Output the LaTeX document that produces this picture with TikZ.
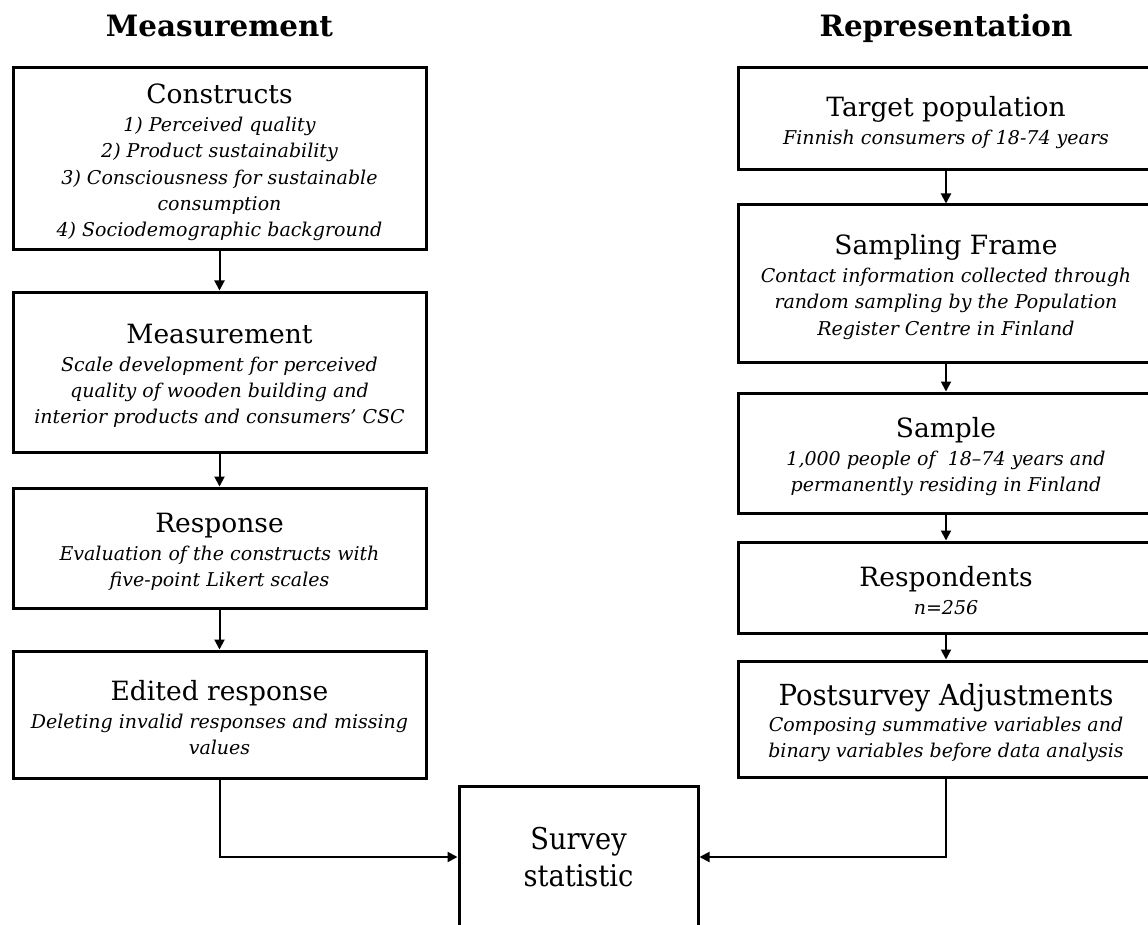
\documentclass[tikz,border=0pt]{standalone}
\usepackage{fontspec}
\setmainfont{DejaVu Serif}
\newfontfamily\narrowserif[FakeStretch=0.88]{DejaVu Serif}
\newfontfamily\narrowtitle[FakeStretch=0.95]{DejaVu Serif}
\newfontfamily\statserif[FakeStretch=0.91]{DejaVu Serif}
\usetikzlibrary{arrows.meta}

\tikzset{
  stage/.style={draw, line width=3pt, inner sep=0pt, align=center,
    font=\fontsize{19}{26.3}\selectfont\itshape},
  lcol/.style={stage, minimum width=413pt},
  rcol/.style={stage, minimum width=416pt},
  link/.style={line width=2pt, -{Triangle[length=10pt,width=10pt]}},
  head/.style={anchor=base, font=\fontsize{29.4}{32}\selectfont\bfseries},
}
% box title with a strut that pushes the text block slightly down
\newcommand\stagetitle[1]{{\fontsize{26.5}{30}\selectfont\upshape\rule{0pt}{27pt}#1}\\[1.5pt]}
\newcommand\posttitle[1]{{\narrowtitle\fontsize{29}{32}\selectfont\upshape\rule{0pt}{29pt}#1}\\[0pt]}

\begin{document}
\begin{tikzpicture}[x=1pt,y=-1pt]
  \clip (0,0) rectangle (1148,925);
  \fill[white] (0,0) rectangle (1148,925);

  % column headings
  \node[head] (hm) at (219.5,37) {Measurement};
  \node[head] (hr) at (946,37) {Representation};

  % measurement side
  \node[lcol, minimum height=182pt] (constructs) at (219.5,159)
    {\stagetitle{Constructs}1) Perceived quality\\2) Product sustainability\\3) Consciousness for sustainable\\consumption\\4) Sociodemographic background};
  \node[lcol, minimum height=160pt] (measure) at (219.5,372)
    {\stagetitle{Measurement}Scale development for perceived\\quality of wooden building and\\interior products and consumers’ CSC};
  \node[lcol, minimum height=120pt] (response) at (219.5,548)
    {\stagetitle{Response}Evaluation of the constructs with\\five-point Likert scales};
  \node[lcol, minimum height=127pt] (edited) at (219.5,714.5)
    {\stagetitle{Edited response}Deleting invalid responses and missing\\values};

  % representation side
  \node[rcol, minimum height=102pt] (target) at (946,119)
    {\stagetitle{Target population}Finnish consumers of 18-74 years};
  \node[rcol, minimum height=157pt] (frame) at (946,283.5)
    {\stagetitle{Sampling Frame}Contact information collected through\\random sampling by the Population\\Register Centre in Finland};
  \node[rcol, minimum height=120pt] (sample) at (946,453)
    {\stagetitle{Sample}1,000 people of \ 18–74 years and\\permanently residing in Finland};
  \node[rcol, minimum height=91pt] (resp) at (946,587.5)
    {\stagetitle{Respondents}n=256};
  \node[rcol, minimum height=116pt] (post) at (946,719)
    {\narrowserif\fontsize{19}{26.5}\selectfont\posttitle{Postsurvey Adjustments}Composing summative variables and\\binary variables before data analysis};

  % result
  \node[draw, line width=3pt, minimum width=239pt, minimum height=142pt,
    align=center, font=\statserif\fontsize{30}{37}\selectfont] (stat) at (578.5,857)
    {Survey\\statistic};

  % connectors
  \draw[link] (constructs) -- (measure);
  \draw[link] (measure) -- (response);
  \draw[link] (response) -- (edited);
  \draw[link] (target) -- (frame);
  \draw[link] (frame) -- (sample);
  \draw[link] (sample) -- (resp);
  \draw[link] (resp) -- (post);
  \draw[link] (edited.south) |- (stat.west);
  \draw[link] (post.south) |- (stat.east);
\end{tikzpicture}
\end{document}
